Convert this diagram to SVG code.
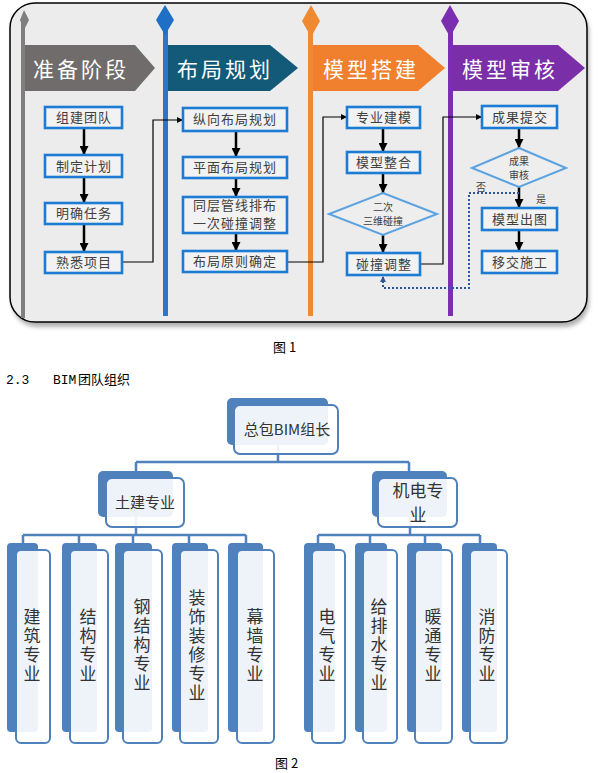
<svg xmlns="http://www.w3.org/2000/svg" width="598" height="773" viewBox="0 0 598 773">
<style>
.box{fill:#f2f2f2;stroke:#1c7cd5;stroke-width:2.6}
.dia{fill:#eeeeee;stroke:#5ba3e0;stroke-width:2}
.bt{font-family:"Noto Sans CJK SC",sans-serif;font-size:13px;fill:#404040;text-anchor:middle;letter-spacing:1px}
.st{font-family:"Noto Sans CJK SC",sans-serif;font-size:10px;fill:#404040;text-anchor:middle}
.ban{font-family:"Noto Sans CJK SC",sans-serif;font-size:21px;fill:#ffffff;text-anchor:middle;letter-spacing:3px}
.arr{stroke:#000;stroke-width:2.5;fill:none}
.con{stroke:#000;stroke-width:1.2;fill:none}
.dot{stroke:#2f5597;stroke-width:2;stroke-dasharray:2 2;fill:none}
.bk{fill:#4f81bd}
.fr{fill:#ffffff;fill-opacity:0.9;stroke:#4f81bd;stroke-width:2}
.tl{stroke:#4f81bd;stroke-width:2.5;fill:none}
.tt{font-family:"Noto Sans CJK SC",sans-serif;fill:#333333;text-anchor:middle}
.vt{font-family:"Noto Sans CJK SC",sans-serif;font-size:17px;fill:#333333;text-anchor:middle;writing-mode:vertical-rl;letter-spacing:2px}
.cap{font-family:"Noto Sans CJK SC",sans-serif;font-size:13px;fill:#000}
</style>
<defs>
<marker id="ah" viewBox="0 0 10 10" refX="10" refY="5" markerWidth="9" markerHeight="9" markerUnits="userSpaceOnUse" orient="auto"><path d="M0,0 L10,5 L0,10 z" fill="#000"/></marker>
<marker id="ahs" viewBox="0 0 10 10" refX="10" refY="5" markerWidth="6" markerHeight="6" markerUnits="userSpaceOnUse" orient="auto"><path d="M0,0 L10,5 L0,10 z" fill="#000"/></marker>
<marker id="ahd" viewBox="0 0 10 10" refX="10" refY="5" markerWidth="6" markerHeight="6" markerUnits="userSpaceOnUse" orient="auto"><path d="M0,0 L10,5 L0,10 z" fill="#2f5597"/></marker>
<filter id="sh" x="-5%" y="-5%" width="110%" height="115%"><feGaussianBlur stdDeviation="2"/></filter>
</defs>

<!-- Figure 1 panel -->
<g id="panel">
<rect x="12" y="7" width="577" height="320" rx="25" fill="#b0b0b0" filter="url(#sh)"/>
<rect x="10" y="3" width="577" height="319" rx="25" fill="#ececec" stroke="#000" stroke-width="1.5"/>
</g>

<g id="poles">
<rect x="21" y="20" width="4" height="298" fill="#7f7f7f"/>
<polygon points="24,10 29,20 24,30 20,20" fill="#7f7f7f"/>
<rect x="163" y="20" width="5" height="296" fill="#2e75c6"/>
<polygon points="165,5 174,20 165,35 156,20" fill="#1f6fc5"/>
<rect x="308" y="20" width="5" height="296" fill="#f08a32"/>
<polygon points="311,5 320,21 311,37 302,21" fill="#f08a32"/>
<rect x="448" y="20" width="5" height="296" fill="#7b2fb0"/>
<polygon points="450,5 459,21 450,37 441,21" fill="#7b2fb0"/>
</g>

<g id="banner-prep">
<polygon points="25,45 135,45 155,68 135,91 25,91" fill="#706c6c"/>
<text class="ban" x="81" y="77">准备阶段</text>
</g>
<g id="banner-layout">
<polygon points="168,45 270,45 298,68 270,91 168,91" fill="#125a78"/>
<text class="ban" x="225" y="77">布局规划</text>
</g>
<g id="banner-model">
<polygon points="313,45 418,45 445,68 418,91 313,91" fill="#f07f2e"/>
<text class="ban" x="371" y="77">模型搭建</text>
</g>
<g id="banner-review">
<polygon points="453,45 558,45 585,68 558,91 453,91" fill="#7a2fa8"/>
<text class="ban" x="510" y="77">模型审核</text>
</g>

<!-- connectors of figure 1 -->
<g id="connectors-fig1">
<line class="arr" x1="84" y1="128" x2="84" y2="155" marker-end="url(#ah)"/>
<line class="arr" x1="84" y1="177" x2="84" y2="203" marker-end="url(#ah)"/>
<line class="arr" x1="84" y1="224" x2="84" y2="252" marker-end="url(#ah)"/>
<line class="arr" x1="236" y1="131" x2="236" y2="157" marker-end="url(#ah)"/>
<line class="arr" x1="236" y1="178" x2="236" y2="197" marker-end="url(#ah)"/>
<line class="arr" x1="236" y1="233" x2="236" y2="251" marker-end="url(#ah)"/>
<line class="arr" x1="383" y1="128" x2="383" y2="152" marker-end="url(#ah)"/>
<line class="arr" x1="383" y1="173" x2="383" y2="193" marker-end="url(#ah)"/>
<line class="arr" x1="383" y1="235" x2="383" y2="253" marker-end="url(#ah)"/>
<line class="arr" x1="519" y1="128" x2="519" y2="148" marker-end="url(#ah)"/>
<line class="arr" x1="519" y1="187" x2="519" y2="208" marker-end="url(#ah)"/>
<line class="arr" x1="519" y1="230" x2="519" y2="251" marker-end="url(#ah)"/>
<path class="con" d="M122,262 H153 V120 H183" marker-end="url(#ahs)"/>
<path class="con" d="M287,262 H323 V117 H347" marker-end="url(#ahs)"/>
<path class="con" d="M420,264 H443 V117 H482" marker-end="url(#ahs)"/>
<path class="dot" d="M519,193 H469 V288 H383 V276" marker-end="url(#ahd)"/>
<text class="st" x="481" y="191" font-size="11">否</text>
<text class="st" x="541" y="203" font-size="11">是</text>
</g>

<!-- column 1 -->
<g id="n-zujian"><rect class="box" x="45" y="107" width="77" height="21"/><text class="bt" x="84" y="122">组建团队</text></g>
<g id="n-zhiding"><rect class="box" x="45" y="155" width="77" height="22"/><text class="bt" x="84" y="171">制定计划</text></g>
<g id="n-mingque"><rect class="box" x="45" y="203" width="77" height="21"/><text class="bt" x="84" y="218">明确任务</text></g>
<g id="n-shuxi"><rect class="box" x="45" y="252" width="77" height="21"/><text class="bt" x="84" y="267">熟悉项目</text></g>

<!-- column 2 -->
<g id="n-zongxiang"><rect class="box" x="183" y="108" width="104" height="23"/><text class="bt" x="235" y="124">纵向布局规划</text></g>
<g id="n-pingmian"><rect class="box" x="183" y="157" width="104" height="21"/><text class="bt" x="235" y="172">平面布局规划</text></g>
<g id="n-tongceng"><rect class="box" x="183" y="197" width="104" height="36"/><text class="bt" x="235" y="210" font-size="12">同层管线排布</text><text class="bt" x="235" y="228" font-size="12">一次碰撞调整</text></g>
<g id="n-yuanze"><rect class="box" x="183" y="251" width="104" height="21"/><text class="bt" x="235" y="266">布局原则确定</text></g>

<!-- column 3 -->
<g id="n-zhuanye"><rect class="box" x="347" y="107" width="73" height="21"/><text class="bt" x="384" y="122">专业建模</text></g>
<g id="n-zhenghe"><rect class="box" x="347" y="152" width="73" height="21"/><text class="bt" x="384" y="167">模型整合</text></g>
<g id="n-erci"><polygon class="dia" points="383,193 437,214 383,235 329,214"/><text class="st" x="383" y="211">二次</text><text class="st" x="383" y="225">三维碰撞</text></g>
<g id="n-tiaozheng"><rect class="box" x="347" y="253" width="73" height="22"/><text class="bt" x="384" y="269">碰撞调整</text></g>

<!-- column 4 -->
<g id="n-tijiao"><rect class="box" x="482" y="106" width="75" height="22"/><text class="bt" x="520" y="122">成果提交</text></g>
<g id="n-shenhe"><polygon class="dia" points="519,148 566,168 519,187 472,168"/><text class="st" x="519" y="165">成果</text><text class="st" x="519" y="179">审核</text></g>
<g id="n-chutu"><rect class="box" x="482" y="208" width="75" height="22"/><text class="bt" x="520" y="224">模型出图</text></g>
<g id="n-yijiao"><rect class="box" x="482" y="251" width="75" height="22"/><text class="bt" x="520" y="267">移交施工</text></g>

<text class="cap" x="273" y="352">图 1</text>
<text class="cap" y="384" font-size="14"><tspan x="6" font-family="Liberation Mono, monospace">2.3</tspan><tspan x="53" font-family="Liberation Mono, monospace">BIM</tspan><tspan x="78">团队组织</tspan></text>

<!-- Figure 2 connectors -->
<g id="connectors-fig2">
<path class="tl" d="M278,445 V462 M136,462 H409 M136,462 V471 M409,462 V471"/>
<path class="tl" d="M136,517 V535 M23,535 H246 M23,535 V543 M79,535 V543 M133,535 V543 M189,535 V543 M246,535 V543"/>
<path class="tl" d="M410,517 V535 M318,535 H480 M318,535 V543 M370,535 V543 M425,535 V543 M480,535 V543"/>
</g>

<g id="t-root"><rect class="bk" x="227" y="398" width="101" height="47" rx="5"/><rect class="fr" x="234" y="405" width="104" height="49" rx="6"/><text class="tt" x="287" y="435" font-size="15">总包BIM组长</text></g>
<g id="t-tujian"><rect class="bk" x="98" y="471" width="75" height="46" rx="5"/><rect class="fr" x="106" y="478" width="78" height="49" rx="6"/><text class="tt" x="145" y="508" font-size="15">土建专业</text></g>
<g id="t-jidian"><rect class="bk" x="372" y="471" width="75" height="46" rx="5"/><rect class="fr" x="378" y="478" width="79" height="49" rx="6"/><text class="tt" x="418" y="497" font-size="17">机电专</text><text class="tt" x="418" y="521" font-size="17">业</text></g>

<g id="t-jianzhu"><rect class="bk" x="7" y="543" width="31" height="189" rx="4"/><rect class="fr" x="16" y="550" width="34" height="193" rx="5"/><text class="vt" x="32" y="646">建筑专业</text></g>
<g id="t-jiegou"><rect class="bk" x="62" y="543" width="35" height="189" rx="4"/><rect class="fr" x="70" y="550" width="38" height="193" rx="5"/><text class="vt" x="88" y="646">结构专业</text></g>
<g id="t-gangjiegou"><rect class="bk" x="115" y="543" width="37" height="189" rx="4"/><rect class="fr" x="123" y="550" width="39" height="193" rx="5"/><text class="vt" x="142" y="646">钢结构专业</text></g>
<g id="t-zhuangshi"><rect class="bk" x="172" y="543" width="36" height="189" rx="4"/><rect class="fr" x="180" y="550" width="38" height="193" rx="5"/><text class="vt" x="197" y="646">装饰装修专业</text></g>
<g id="t-muqiang"><rect class="bk" x="228" y="543" width="35" height="189" rx="4"/><rect class="fr" x="237" y="550" width="37" height="193" rx="5"/><text class="vt" x="255" y="646">幕墙专业</text></g>

<g id="t-dianqi"><rect class="bk" x="304" y="543" width="31" height="189" rx="4"/><rect class="fr" x="312" y="550" width="33" height="193" rx="5"/><text class="vt" x="327" y="646">电气专业</text></g>
<g id="t-geipaishui"><rect class="bk" x="355" y="543" width="32" height="189" rx="4"/><rect class="fr" x="363" y="550" width="34" height="193" rx="5"/><text class="vt" x="379" y="646">给排水专业</text></g>
<g id="t-nuantong"><rect class="bk" x="407" y="543" width="35" height="189" rx="4"/><rect class="fr" x="415" y="550" width="37" height="193" rx="5"/><text class="vt" x="433" y="646">暖通专业</text></g>
<g id="t-xiaofang"><rect class="bk" x="462" y="543" width="35" height="189" rx="4"/><rect class="fr" x="470" y="550" width="37" height="193" rx="5"/><text class="vt" x="487" y="646">消防专业</text></g>

<text class="cap" x="275" y="768">图 2</text>
</svg>
